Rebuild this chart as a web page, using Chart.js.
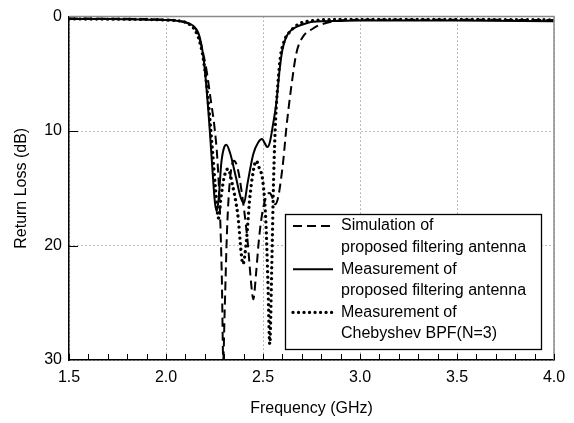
<!DOCTYPE html>
<html><head><meta charset="utf-8">
<script src="https://cdn.jsdelivr.net/npm/chart.js@4/dist/chart.umd.min.js"></script>
<style>html,body{margin:0;padding:0;background:#fff}#wrap{width:574px;height:423px}</style>
</head><body><div id="wrap"><canvas id="c" width="574" height="423"></canvas></div>
<script>
// ---- data ----
const simFreq = [1.5,1.7,1.9,2.0,2.05,2.1,2.13,2.157,2.18,2.208,2.23,2.251,2.265,2.278,2.288,2.295,2.302,2.315,2.33,2.35,2.37,2.39,2.42,2.44,2.45,2.465,2.48,2.5,2.52,2.535,2.55,2.563,2.578,2.592,2.605,2.62,2.646,2.672,2.706,2.758,2.79,2.88,3.0,3.5,4.0];
const simLoss = [0.15,0.18,0.22,0.28,0.35,0.5,0.75,1.2,2.4,4.6,7.2,9.8,12.5,17,23,30,26,18.5,14.2,12.6,13.3,15.3,19.5,23.5,24.7,22.3,19.3,16.8,15.6,15.4,15.9,16.4,15.8,14.3,12.5,9.8,6.1,3.2,1.76,1.04,0.75,0.38,0.28,0.28,0.3];

const measFreq = [1.5,1.7,1.9,2.0,2.05,2.1,2.14,2.16,2.174,2.19,2.208,2.225,2.24,2.252,2.262,2.272,2.285,2.3,2.311,2.33,2.36,2.385,2.402,2.42,2.45,2.475,2.495,2.51,2.522,2.535,2.55,2.569,2.586,2.6,2.62,2.645,2.672,2.72,2.758,2.9,3.0,3.5,4.0];
const measLoss = [0.2,0.22,0.27,0.3,0.35,0.5,0.8,1.2,1.8,3.2,6.1,9.8,13.5,16.2,17,15.8,12.8,11.4,11.2,11.9,14,15.8,16.3,14.6,12,11,10.7,11.1,11.4,11.0,9.6,7.5,4.6,2.9,1.76,1.2,0.9,0.6,0.46,0.38,0.35,0.35,0.4];

const bpfFreq = [1.5,1.7,1.9,2.0,2.05,2.1,2.15,2.18,2.2,2.22,2.24,2.255,2.27,2.285,2.3,2.32,2.34,2.37,2.397,2.415,2.43,2.45,2.465,2.48,2.5,2.515,2.525,2.535,2.545,2.555,2.565,2.577,2.59,2.61,2.64,2.69,2.76,2.9,3.0,3.5,4.0];
const bpfLoss = [0.2,0.22,0.25,0.3,0.35,0.5,1.2,2.6,4.6,7.8,11.8,15,17.6,15.6,14,13.3,14.5,17.3,21.6,19.5,16.2,13.5,12.6,13.2,14.5,18,23,28.6,22,14,9,5.8,3.5,2.1,1.3,0.6,0.35,0.25,0.25,0.25,0.28];

const seriesLabels = [
  ['Simulation of','proposed filtering antenna'],
  ['Measurement of','proposed filtering antenna'],
  ['Measurement of','Chebyshev BPF(N=3)']
];
const xTicks = [1.5,2.0,2.5,3.0,3.5,4.0];
const yTicks = [0,10,20,30];
const xMinorTicks = [1.5,1.6,1.7,1.8,1.9,2.0,2.1,2.2,2.3,2.4,2.5,2.6,2.7,2.8,2.9,3.0,3.1,3.2,3.3,3.4,3.5,3.6,3.7,3.8,3.9,4.0];
const yMajorTicks = [10,20];

const FONT = "'Liberation Sans', Arial, sans-serif";
const pts = (xs, ys) => xs.map((x,i)=>({x:x, y:ys[i]}));

const framePlugin = {
  id:'frame',
  afterDatasetsDraw(chart){
    const {ctx, chartArea:a, scales:{x,y}} = chart;
    ctx.save();
    // gray top and right border
    ctx.strokeStyle = '#8a8a8a'; ctx.lineWidth = 1.5;
    ctx.beginPath(); ctx.moveTo(a.left, a.top); ctx.lineTo(a.right, a.top); ctx.lineTo(a.right, a.bottom); ctx.stroke();
    // inward ticks
    ctx.strokeStyle = '#000'; ctx.lineWidth = 1;
    ctx.beginPath();
    xMinorTicks.forEach(v=>{ const px = Math.round(x.getPixelForValue(v))+0.5; ctx.moveTo(px, a.bottom); ctx.lineTo(px, a.bottom-6); });
    yMajorTicks.forEach(v=>{ const py = Math.round(y.getPixelForValue(v))+0.5; ctx.moveTo(a.left, py); ctx.lineTo(a.left+9, py); });
    ctx.stroke();
    ctx.restore();
  },
  afterDraw(chart){
    const {ctx} = chart;
    const bx = 285.5, by = 214.5, bw = 256, bh = 135;
    ctx.save();
    ctx.fillStyle = '#fff'; ctx.fillRect(bx, by, bw, bh);
    ctx.strokeStyle = '#000'; ctx.lineWidth = 1.3; ctx.strokeRect(bx, by, bw, bh);
    ctx.font = '16px ' + FONT; ctx.textBaseline = 'middle'; ctx.fillStyle = '#000';
    const lh = 21.6; let ly = 226;
    chart.data.datasets.forEach((ds, i)=>{
      ctx.save();
      ctx.strokeStyle = ds.borderColor; ctx.lineWidth = ds.borderWidth;
      ctx.setLineDash(ds.borderDash || []); ctx.lineCap = ds.borderCapStyle || 'butt';
      ctx.beginPath(); ctx.moveTo(293, ly); ctx.lineTo(333, ly); ctx.stroke();
      ctx.restore();
      seriesLabels[i].forEach((t, k)=>{ ctx.fillText(t, 341, ly + k*lh); });
      ly += 2*lh;
    });
    ctx.restore();
  }
};

new Chart(document.getElementById('c'), {
  type:'line',
  data:{ datasets:[
    {label:seriesLabels[0].join(' '), data:pts(simFreq, simLoss), borderColor:'#000', borderWidth:2, borderDash:[9,5], pointRadius:0, fill:false, cubicInterpolationMode:'monotone'},
    {label:seriesLabels[1].join(' '), data:pts(measFreq, measLoss), borderColor:'#000', borderWidth:2, pointRadius:0, fill:false, cubicInterpolationMode:'monotone'},
    {label:seriesLabels[2].join(' '), data:pts(bpfFreq, bpfLoss), borderColor:'#000', borderWidth:3.3, borderDash:[0.01,5.5], borderCapStyle:'round', pointRadius:0, fill:false, cubicInterpolationMode:'monotone'}
  ]},
  options:{
    responsive:false, animation:false, devicePixelRatio:1,
    layout:{ padding:{top:13, right:20, left:0, bottom:0} },
    plugins:{ legend:{display:false}, tooltip:{enabled:false} },
    scales:{
      x:{ type:'linear', min:1.5, max:4.0,
        afterBuildTicks(s){ s.ticks = xTicks.map(v=>({value:v})); },
        afterFit(s){ s.height = 63; },
        ticks:{ color:'#000', font:{family:FONT, size:16}, padding:8, maxRotation:0, callback:v=>Number(v).toFixed(1) },
        grid:{ color:'#777', lineWidth:1, drawTicks:false },
        border:{ display:true, color:'#000', width:1.5, dash:[1,3] },
        title:{ display:true, text:'Frequency (GHz)', color:'#000', font:{family:FONT, size:16}, padding:{top:0, bottom:5} }
      },
      y:{ type:'linear', reverse:true, min:0, max:30,
        afterBuildTicks(s){ s.ticks = yTicks.map(v=>({value:v})); },
        afterFit(s){ s.width = 69; },
        ticks:{ color:'#000', font:{family:FONT, size:16}, padding:7 },
        grid:{ color:'#777', lineWidth:1, drawTicks:false },
        border:{ display:true, color:'#000', width:1.5, dash:[1,3] },
        title:{ display:true, text:'Return Loss (dB)', color:'#000', font:{family:FONT, size:16}, padding:{top:12, bottom:0} }
      }
    }
  },
  plugins:[framePlugin]
});
</script>
</body></html>
